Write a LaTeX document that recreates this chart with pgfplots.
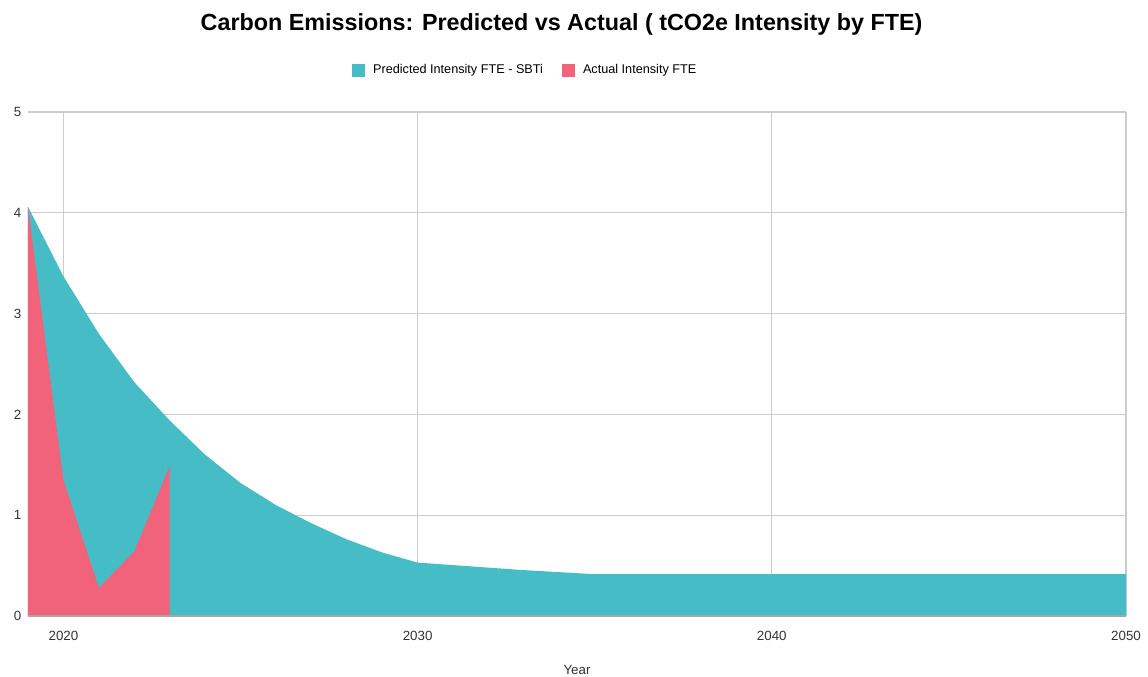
\documentclass[border=0pt]{standalone}
\usepackage{pgfplots}
\pgfplotsset{compat=1.18}
\usepackage{fontspec}
\setmainfont{Liberation Sans}
\definecolor{cpred}{HTML}{46BDC6}
\definecolor{cact}{HTML}{F0637A}
\definecolor{gridc}{HTML}{CCCCCC}
\begin{document}
\begin{tikzpicture}
\useasboundingbox (-21pt,-45pt) rectangle (840pt,462pt);
\begin{axis}[
  scale only axis,
  width=823.5pt, height=378pt,
  xmin=2019, xmax=2050, ymin=0, ymax=5,
  xtick={2020,2030,2040,2050},
  ytick={0,1,2,3,4,5},
  /pgf/number format/assume math mode=true,
  xticklabel={\pgfmathprintnumber[1000 sep={}]{\tick}},
  yticklabel style={font=\fontsize{10}{12}\selectfont, xshift=-1.5pt, text=black!80},
  xticklabel style={font=\fontsize{10}{12}\selectfont, yshift=-8pt, text=black!80},
  major tick length=0pt,
  grid=major,
  grid style={gridc, line width=0.8pt},
  axis line style={draw=none},
  xlabel={Year},
  xlabel style={at={(rel axis cs:0.5,-0.107)}, anchor=center, font=\fontsize{10}{12}\selectfont, text=black!80},
  title={\textbf{Carbon Emissions: Predicted vs Actual ( tCO2e Intensity by FTE)}},
  title style={at={(rel axis cs:0.486,1.158)}, anchor=center, font=\fontsize{17.5}{20}\selectfont},
  legend columns=2,
  legend style={at={(rel axis cs:0.453,1.083)}, anchor=center, draw=none, font=\fontsize{9.5}{11}\selectfont,
    /tikz/every even column/.append style={column sep=12pt}},
  legend image code/.code={\fill[#1] (0pt,-5pt) rectangle (10pt,5pt); \path (14pt,0pt);},
]
\addplot[fill=cpred, draw=none] coordinates {
(2019,4.06) (2020,3.37) (2021,2.80) (2022,2.32) (2023,1.94) (2024,1.60) (2025,1.32)
(2026,1.10) (2027,0.92) (2028,0.76) (2029,0.63) (2030,0.53) (2031,0.505) (2032,0.48)
(2033,0.455) (2034,0.435) (2035,0.415) (2036,0.415) (2040,0.415) (2045,0.415) (2050,0.415)
} \closedcycle;
\addlegendentry{Predicted Intensity FTE - SBTi}
\addplot[fill=cact, draw=none] coordinates {
(2019,4.06) (2020,1.35) (2021,0.28) (2022,0.64) (2023,1.49)
} \closedcycle;
\addlegendentry{Actual Intensity FTE}
\draw[black!35, line width=0.8pt] (rel axis cs:0,0) -- (rel axis cs:1,0);
\end{axis}
\end{tikzpicture}
\end{document}
